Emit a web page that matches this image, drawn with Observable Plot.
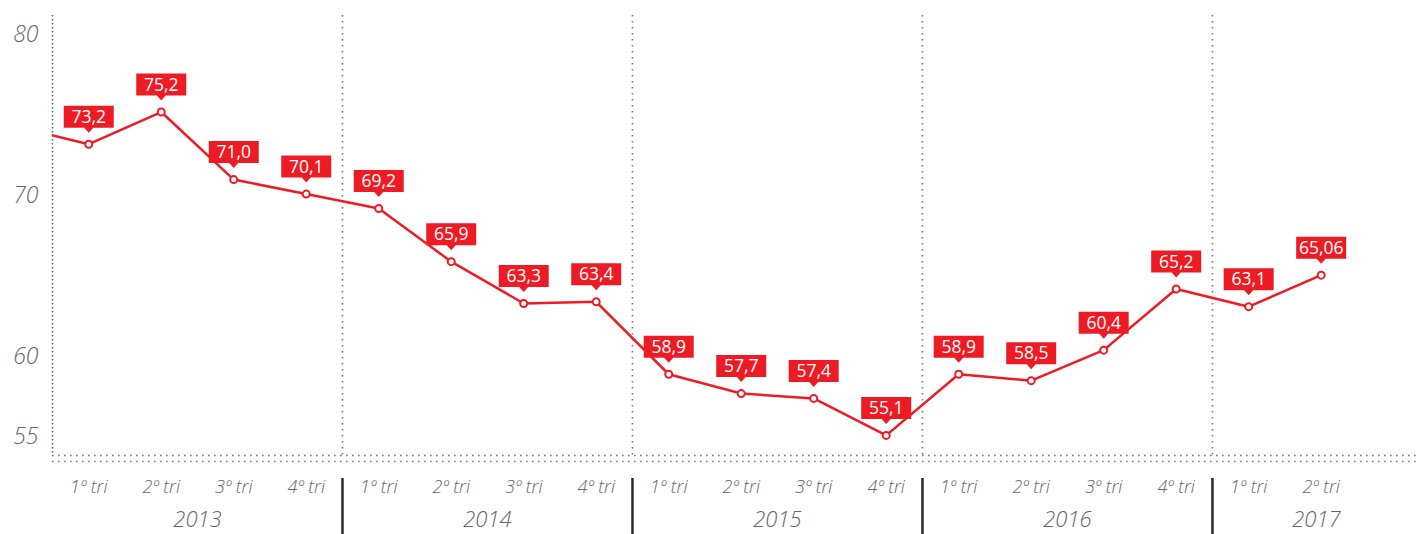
<!DOCTYPE html>
<html>
<head>
<meta charset="utf-8">
<script src="https://cdn.jsdelivr.net/npm/d3@7"></script>
<script src="https://cdn.jsdelivr.net/npm/@observablehq/plot@0.6"></script>
<style>
  html, body { margin: 0; padding: 0; background: #fff; }
  #chart svg { display: block; }
</style>
</head>
<body>
<div id="chart"></div>
<script>
// ---- data ----
const years = ["2013", "2014", "2015", "2016", "2017"];
const quartersPerYear = [4, 4, 4, 4, 2];
const quarterLabels = ["1º tri", "2º tri", "3º tri", "4º tri"];
const values = [73.2, 75.2, 71.0, 70.1, 69.2, 65.9, 63.3, 63.4, 58.9, 57.7, 57.4, 55.1, 58.9, 58.5, 60.4, 64.2, 63.1, 65.06];
const valueLabels = ["73,2", "75,2", "71,0", "70,1", "69,2", "65,9", "63,3", "63,4", "58,9", "57,7", "57,4", "55,1", "58,9", "58,5", "60,4", "65,2", "63,1", "65,06"];
const previousValue = 74.3; // 4º tri 2012, only its segment is visible
const yTicks = [55, 60, 70, 80];

// ---- derived tables ----
const RED = "#ed1c24";
const xMax = 18.87;
const yMin = 53.85;
const points = values.map((v, i) => ({x: i + 0.5, v, label: valueLabels[i]}));
const linePts = [{x: -0.5, v: previousValue}, ...points];
const qRows = [];
years.forEach((y, yi) => {
  for (let q = 0; q < quartersPerYear[yi]; q++) qRows.push({x: yi * 4 + q + 0.5, text: quarterLabels[q]});
});
const yearRows = years.map((y, yi) => ({x: yi * 4 + Math.min(4, xMax - yi * 4) / 2, text: y}));
const yearBounds = years.slice(1).map((y, yi) => (yi + 1) * 4);

const boxSymbol = {
  draw(ctx) {
    ctx.moveTo(-25, -38.5);
    ctx.lineTo(25, -38.5);
    ctx.lineTo(25, -16.5);
    ctx.lineTo(4.5, -16.5);
    ctx.lineTo(0, -11.5);
    ctx.lineTo(-4.5, -16.5);
    ctx.lineTo(-25, -16.5);
    ctx.closePath();
  }
};

const chart = Plot.plot({
  width: 1420,
  height: 534,
  marginLeft: 52,
  marginRight: 0,
  marginTop: 15,
  marginBottom: 79,
  style: {fontFamily: "'Open Sans', sans-serif", background: "#fff", overflow: "visible"},
  x: {domain: [0, xMax]},
  y: {domain: [yMin, 81.2]},
  marks: [
    Plot.ruleX(yearBounds, {stroke: "#777", strokeWidth: 1.6, strokeDasharray: "1.6,4.4"}),
    Plot.ruleX([0], {stroke: "#666", strokeWidth: 1.6, strokeDasharray: "1.6,2.4"}),
    Plot.ruleY([yMin], {stroke: "#777", strokeWidth: 1.6, strokeDasharray: "1.6,4.4"}),
    Plot.ruleY([yMin], {stroke: "#777", strokeWidth: 1.6, strokeDasharray: "1.6,4.4", dy: 6}),
    Plot.axisY({ticks: yTicks, tickSize: 0, tickPadding: 14, fontSize: 23, fontStyle: "italic", fontWeight: 300, fill: "#666", label: null}),
    Plot.axisX({ticks: yearBounds, tickSize: 56, dy: 23, tickFormat: () => "", stroke: "#2a2a2a", strokeWidth: 2.5, label: null}),
    Plot.text(qRows, {x: "x", text: "text", frameAnchor: "bottom", dy: 37, fontSize: 18, fontStyle: "italic", fontWeight: 300, fill: "#666"}),
    Plot.text(yearRows, {x: "x", text: "text", frameAnchor: "bottom", dy: 71, fontSize: 22, fontStyle: "italic", fontWeight: 300, fill: "#666"}),
    Plot.line(linePts, {x: "x", y: "v", stroke: RED, strokeWidth: 2.5, clip: true}),
    Plot.dot(points, {x: "x", y: "v", r: 3.5, fill: "#fff", stroke: RED, strokeWidth: 2}),
    Plot.dot(points, {x: "x", y: "v", symbol: boxSymbol, fill: RED, stroke: "none"}),
    Plot.text(points, {x: "x", y: "v", text: "label", dy: -27, fill: "#fff", fontSize: 17.5})
  ]
});
document.getElementById("chart").appendChild(chart);
</script>
</body>
</html>
